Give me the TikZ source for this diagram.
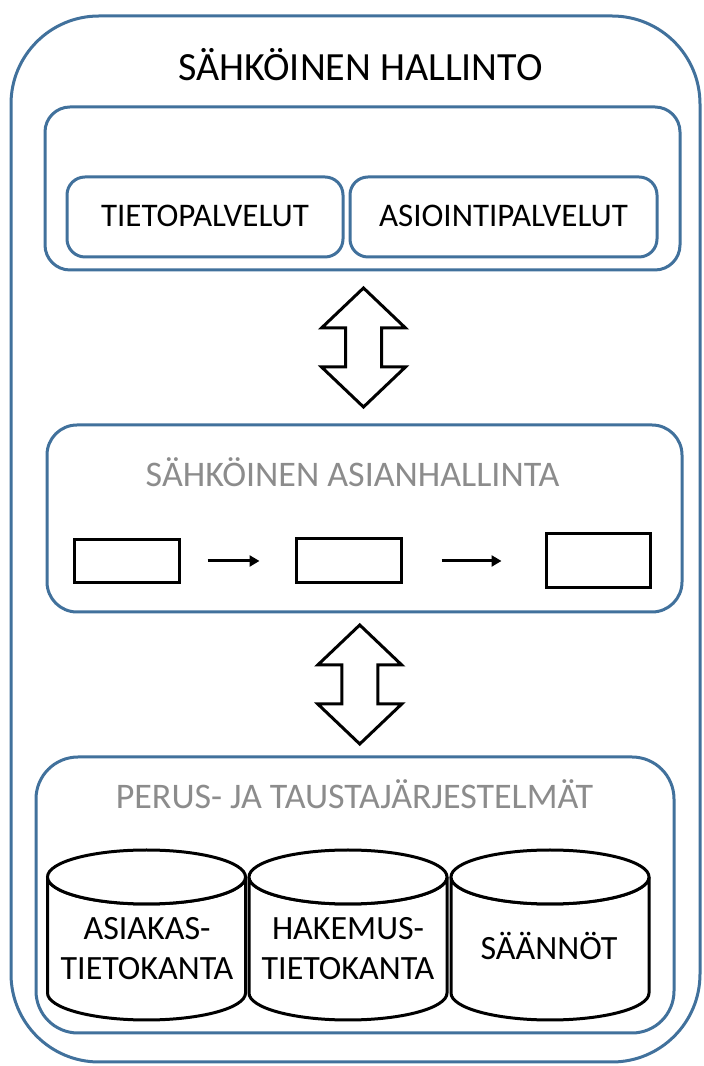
\documentclass[tikz,border=0pt]{standalone}
\usepackage{fontspec}
\setmainfont{Carlito}
\usetikzlibrary{calc,arrows.meta}
\definecolor{obord}{RGB}{65,113,156}
\definecolor{gtext}{RGB}{140,140,140}
\tikzset{
  bluebox/.style={draw=obord, line width=3pt, rounded corners=25pt, fill=white, inner sep=0pt},
  blackbox/.style={draw=black, line width=3pt, inner sep=0pt, fill=white},
  flow/.style={draw=black, line width=3pt, -{Triangle[length=10pt,width=11pt]}},
  dbl/.style={draw=black, line width=3pt, fill=white, line join=miter},
  cyl/.style={draw=black, line width=3pt, fill=white},
  lbl/.style={anchor=base, inner sep=0pt, font=\fontsize{34}{40}\selectfont},
}
\newcommand{\dblarrowat}[1]{%
  \draw[dbl] (#1) ++(0,59.5) -- ++(42,-40) -- ++(-24,0) -- ++(0,-39) -- ++(24,0)
    -- ++(-42,-40) -- ++(-42,40) -- ++(24,0) -- ++(0,39) -- ++(-24,0) -- cycle;}
\newcommand{\cylat}[2]{% center x, name
  \draw[cyl] (#1-99,189) -- (#1-99,73) arc[start angle=180, end angle=360, x radius=99, y radius=27]
    -- (#1+99,189) arc[start angle=0, end angle=-180, x radius=99, y radius=27] -- cycle;
  \draw[cyl] (#1,189) ellipse[x radius=99, y radius=27];
  \coordinate (#2) at (#1,131);}
\begin{document}
\begin{tikzpicture}[x=1pt,y=1pt]
\useasboundingbox (0,0) rectangle (704,1066);
% outer box
\node[bluebox, rounded corners=88pt, minimum width=689pt, minimum height=1046pt] (outer) at (355.5,527) {};
\node[lbl, font=\fontsize{40}{48}\selectfont] (title) at (360.5,985) {SÄHKÖINEN HALLINTO};
% box 1
\node[bluebox, minimum width=635pt, minimum height=163pt] (box1) at (362.5,877.5) {};
\node[bluebox, rounded corners=18pt, minimum width=276pt, minimum height=80pt] (tp) at (205,849) {};
\node[bluebox, rounded corners=18pt, minimum width=307pt, minimum height=80pt] (ap) at (503.5,849) {};
\node[lbl, font=\fontsize{33}{40}\selectfont] (tpt) at (tp.center |- 0,839) {TIETOPALVELUT};
\node[lbl, font=\fontsize{33}{40}\selectfont] (apt) at (ap.center |- 0,839) {ASIOINTIPALVELUT};
% box 2
\node[bluebox, rounded corners=30pt, minimum width=635pt, minimum height=187pt] (box2) at (364.5,547.5) {};
\node[lbl, text=gtext, font=\fontsize{36}{44}\selectfont] (t2) at (352.5,579) {SÄHKÖINEN ASIANHALLINTA};
\node[blackbox, minimum width=105pt, minimum height=43pt] (a) at (126.5,505) {};
\node[blackbox, minimum width=105pt, minimum height=44pt] (b) at (348.5,505) {};
\node[blackbox, minimum width=104pt, minimum height=54pt] (c) at (598,505) {};
\draw[flow, shorten <=27pt, shorten >=35pt] (a.east) -- (b.west);
\draw[flow, shorten <=39pt, shorten >=43pt] (b.east) -- (c.west);
% box 3
\node[bluebox, rounded corners=42pt, minimum width=638pt, minimum height=276pt] (box3) at (355,171) {};
\node[lbl, text=gtext, font=\fontsize{36}{44}\selectfont] (t3) at (354.5,257) {PERUS- JA TAUSTAJÄRJESTELMÄT};
% double arrows
\coordinate (da1) at ($(box1.south)!0.5!(box2.north)$);
\coordinate (da2) at ($(box2.south)!0.5!(box3.north)$);
\dblarrowat{da1}
\dblarrowat{da2}
% cylinders
\cylat{146.5}{cy1}
\cylat{348}{cy2}
\cylat{550}{cy3}
\node[lbl] (c1a) at (147,126) {ASIAKAS-};
\node[lbl] (c1b) at (147,86) {TIETOKANTA};
\node[lbl] (c2a) at (348,126) {HAKEMUS-};
\node[lbl] (c2b) at (348,86) {TIETOKANTA};
\node[lbl] (c3) at (549,106) {SÄÄNNÖT};
\end{tikzpicture}
\end{document}
